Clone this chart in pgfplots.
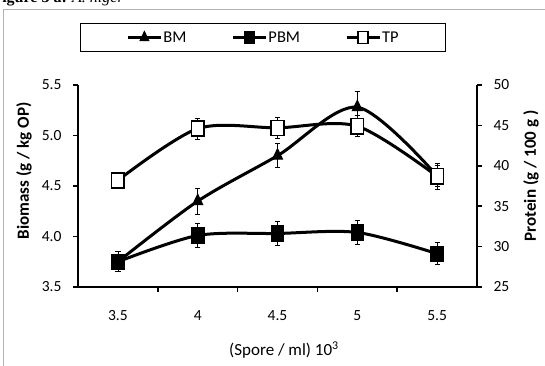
\documentclass[border=0pt]{standalone}
\usepackage{pgfplots}
\pgfplotsset{compat=1.18}
\usepackage{fontspec}
\setmainfont{Carlito}
\newfontfamily\capfont{Liberation Serif}

% Measurements: biomass (BM), protein biomass (PBM), total protein (TP)
\pgfplotstableread{
x   bm    bmerr  pbm   pbmerr
0.5 3.75  0.10   3.75  0.10
1.5 4.35  0.13   4.01  0.12
2.5 4.80  0.12   4.03  0.12
3.5 5.28  0.16   4.04  0.12
4.5 4.60  0.10   3.83  0.11
}\leftdata
\pgfplotstableread{
x   tp    tperr
0.5 38.2  1.0
1.5 44.6  1.3
2.5 44.7  1.3
3.5 44.9  1.3
4.5 38.7  1.6
}\rightdata

\pgfplotsset{
  common/.style={
    at={(78pt,78pt)}, anchor=south west,
    scale only axis, width=399pt, height=202pt,
    xmin=0, xmax=5,
    axis line style={line width=1.8pt, black},
    tick style={line width=1.5pt, black},
    major tick length=5pt,
    tick align=outside,
    tick label style={font=\fontsize{15.5}{17}\selectfont},
    /pgf/number format/assume math mode=true,
  },
  ser/.style={black, line width=3pt, smooth, tension=0.5},
  bmstyle/.style={ser, mark=triangle*, mark size=5.8pt,
    mark options={fill=black, line width=1pt, yscale=1.2, solid}},
  pbmstyle/.style={ser, mark=square*, mark size=6.3pt,
    mark options={fill=black, line width=1pt, yscale=1.2, solid}},
  tpstyle/.style={ser, mark=square*, mark size=6.3pt,
    mark options={fill=white, draw=black, line width=1.5pt, yscale=1.2, solid}},
  errs/.style={
    error bars/.cd, y dir=both, y explicit,
    error bar style={line width=0.8pt, black, solid},
    error mark options={line width=0.8pt, mark size=2.6pt, black, rotate=90},
  },
}

\begin{document}
\begin{tikzpicture}[x=1pt, y=1pt]
\useasboundingbox (0,0) rectangle (545,365);

% page frame and caption line above the figure
\draw[gray!60, line width=0.9pt] (3.5,-2) -- (3.5,355.5) -- (548,355.5);
\node[anchor=base east, inner sep=0pt, font=\capfont\fontsize{16}{18}\selectfont]
  at (124,362.5) {\textbf{Figure 3 a:} \textit{A. niger}};

% left axis: biomass
\begin{axis}[common,
  ymin=3.5, ymax=5.5,
  axis x line*=bottom, axis y line*=left,
  xtick={1,2,3,4}, xticklabels={},
  extra x ticks={0.5,1.5,2.5,3.5,4.5},
  extra x tick labels={3.5,4,4.5,5,5.5},
  extra x tick style={major tick length=0pt,
    tick label style={yshift=-20pt}},
  ytick={3.5,4,4.5,5,5.5},
  yticklabel style={/pgf/number format/fixed,
    /pgf/number format/fixed zerofill,
    /pgf/number format/precision=1, xshift=-8pt},
  legend columns=3,
  legend style={at={(0.4637,1.235)}, anchor=center,
    draw=black, line width=1.3pt,
    font=\fontsize{16.5}{18}\selectfont,
    inner xsep=46pt, inner ysep=7pt,
    nodes={inner sep=1pt},
    /tikz/every even column/.append style={column sep=44pt}},
  legend image code/.code={
    \draw[mark repeat=2, mark phase=2, #1, mark size=5pt]
      plot coordinates {(0pt,0pt) (16.5pt,0pt) (33pt,0pt)};},
]
\addplot[bmstyle, errs] table[x=x, y=bm, y error=bmerr] {\leftdata};
\addlegendentry{BM}
\addplot[pbmstyle, errs] table[x=x, y=pbm, y error=pbmerr] {\leftdata};
\addlegendentry{PBM}
\addlegendimage{tpstyle}
\addlegendentry{TP}
\end{axis}

% right axis: protein
\begin{axis}[common,
  ymin=25, ymax=50,
  axis x line=none, axis y line*=right,
  ytick={25,30,35,40,45,50},
  yticklabel style={xshift=8pt},
]
\addplot[tpstyle, errs] table[x=x, y=tp, y error=tperr] {\rightdata};
\end{axis}

% axis titles
\node[rotate=90, font=\bfseries\fontsize{17}{19}\selectfont] at (24,194) {Biomass (g / kg OP)};
\node[rotate=90, font=\bfseries\fontsize{17}{19}\selectfont] at (531,189) {Protein (g / 100 g )};
\node[font=\fontsize{17}{19}\selectfont] at (284,15) {(Spore / ml) 10\textsuperscript{3}};
\end{tikzpicture}
\end{document}
